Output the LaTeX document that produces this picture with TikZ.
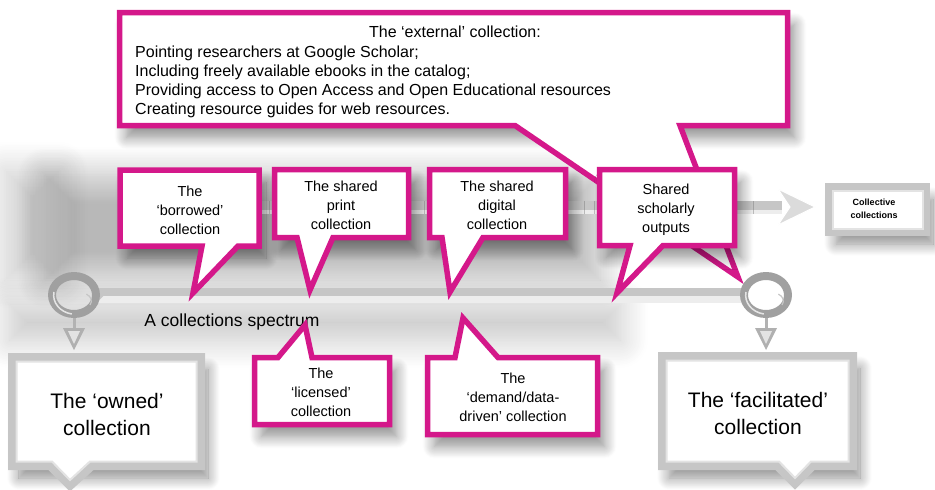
\documentclass[tikz,border=0pt]{standalone}
\usepackage{fontspec}
\setmainfont{Liberation Sans}
\usetikzlibrary{shadows.blur,calc}
\definecolor{mag}{RGB}{212,24,138}
\definecolor{barg}{RGB}{198,198,198}
\definecolor{ringg}{RGB}{160,160,160}
\tikzset{
  x=1pt,y=-1pt,
  sh/.style={blur shadow={shadow xshift=7pt,shadow yshift=-12pt,shadow blur radius=12pt,shadow blur steps=14,shadow opacity=45}},
  haze/.style={blur shadow={shadow xshift=0pt,shadow yshift=0pt,shadow blur radius=28pt,shadow blur steps=18,shadow opacity=#1}},
  callout/.style={draw=mag,line width=5.5pt,fill=white,line join=miter},
  graybox/.style={draw=gray!45,line width=8pt,fill=white,line join=miter},
  graybevel/.style={draw=gray!22,line width=2pt,line join=miter},
  ctext/.style={align=center,inner sep=0pt,font=\fontsize{14.5}{19}\selectfont},
  btext/.style={align=center,inner sep=0pt,font=\fontsize{21}{27}\selectfont},
}
\begin{document}
\begin{tikzpicture}
\useasboundingbox (0,0) rectangle (935,490);
% diffuse background shadows
\path[haze=28] (45,175) rectangle (600,280);
\path[haze=22] (10,305) rectangle (620,340);
\path[haze=20] (5,170) rectangle (60,280);
% external callout
\path[sh] (119.5,12.5) rectangle (787.5,125.5);
\fill[gray!45] (515,125.5) -- (680,125.5) -- (738,277) -- cycle;
\draw[callout] (119.5,12.5) -- (787.5,12.5) -- (787.5,125.5) -- (680,125.5) -- (738,277) -- (515,125.5) -- (119.5,125.5) -- cycle;
\node[ctext,font=\fontsize{16}{19}\selectfont] (exttitle) at (455,32) {The ‘external’ collection:};
\node[ctext,align=left,anchor=north west,font=\fontsize{16}{19}\selectfont] (extlist) at (135,46) {Pointing researchers at Google Scholar;\\Including freely available ebooks in the catalog;\\Providing access to Open Access and Open Educational resources\\Creating resource guides for web resources.};
% top arrow bar
\fill[barg] (130,201) rectangle (782,214);
\fill[gray!14] (130,210) rectangle (782,214);
\fill[gray!28,draw=white,line width=1pt] (778,189) -- (815,207) -- (778,225) -- (790,207) -- cycle;
% collective box
\path[sh] (829,187) rectangle (926,232);
\draw[graybox] (829,187) rectangle (926,232);
\draw[graybevel] (832.5,190.5) rectangle (922.5,228.5);
\node[ctext,font=\bfseries\fontsize{9}{13}\selectfont] (collective) at (874,209) {Collective\\collections};
% lower spectrum bar
\fill[barg] (95,288) rectangle (745,303);
\fill[gray!14] (95,296) rectangle (745,303);
\fill[barg] (96,288) -- (104,295.5) -- (96,303) -- cycle;
% rings
\foreach \cx in {74,766}{
  \fill[ringg,even odd rule] (\cx,295) ellipse [x radius=26,y radius=23] (\cx,295) ellipse [x radius=18,y radius=15];
  \draw[gray!20,line width=1.5pt] (\cx-20,292) arc[start angle=190,end angle=100,x radius=22,y radius=19];
  \draw[gray!45,line width=1.2pt] (\cx+16,305) arc[start angle=30,end angle=-60,x radius=10,y radius=8];
  \draw[gray!60,line width=3pt] (\cx,318) -- (\cx,332);
  \fill[gray!62] (\cx-11,328) -- (\cx+11,328) -- (\cx,350) -- cycle;
  \fill[gray!22] (\cx-6,331) -- (\cx+6,331) -- (\cx,344) -- cycle;
}
\coordinate (lring) at (74,295);
\coordinate (rring) at (766,295);
\node[inner sep=0pt,font=\fontsize{17.5}{20}\selectfont] (spectrum) at (232,322) {A collections spectrum};
% top row callouts
\path[sh] (120,170) rectangle (259,246);
\draw[callout] (120,170) -- (259,170) -- (259,246) -- (238,246) -- (193,293) -- (202,246) -- (120,246) -- cycle;
\node[ctext] (borrowed) at (190,210) {The\\‘borrowed’\\collection};
\path[sh] (274.5,169.5) rectangle (408.5,237.5);
\draw[callout] (274.5,169.5) -- (408.5,169.5) -- (408.5,237.5) -- (333,237.5) -- (310,290) -- (297,237.5) -- (274.5,237.5) -- cycle;
\node[ctext] (print) at (341,205) {The shared\\print\\collection};
\path[sh] (429.5,169.5) rectangle (565.5,237.5);
\draw[callout] (429.5,169.5) -- (565.5,169.5) -- (565.5,237.5) -- (483,237.5) -- (450,292) -- (442,237.5) -- (429.5,237.5) -- cycle;
\node[ctext] (digital) at (497,205) {The shared\\digital\\collection};
\path[sh] (599.5,169.5) rectangle (734.5,245.5);
\draw[callout] (599.5,169.5) -- (734.5,169.5) -- (734.5,245.5) -- (663,245.5) -- (617,293) -- (630,245.5) -- (599.5,245.5) -- cycle;
\node[ctext] (scholarly) at (666,210) {Shared\\scholarly\\outputs};
% lower callouts
\path[sh] (254.5,357.5) rectangle (389.5,424.5);
\draw[callout] (254.5,357.5) -- (278,357.5) -- (305,325) -- (312,357.5) -- (389.5,357.5) -- (389.5,424.5) -- (254.5,424.5) -- cycle;
\node[ctext] (licensed) at (321,392) {The\\‘licensed’\\collection};
\path[sh] (427.5,357.5) rectangle (597.5,434.5);
\draw[callout] (427.5,357.5) -- (455,357.5) -- (463,318) -- (498,357.5) -- (597.5,357.5) -- (597.5,434.5) -- (427.5,434.5) -- cycle;
\node[ctext] (demand) at (513,397) {The\\‘demand/data-\\driven’ collection};
% big gray boxes
\path[sh] (12,357) rectangle (201,466);
\draw[graybox] (12,357) -- (201,357) -- (201,466) -- (92,466) -- (70,486) -- (50,466) -- (12,466) -- cycle;
\draw[graybevel] (16.5,361.5) -- (196.5,361.5) -- (196.5,461.5) -- (90,461.5) -- (70,480) -- (52,461.5) -- (16.5,461.5) -- cycle;
\node[btext] (owned) at (107,414) {The ‘owned’\\collection};
\path[sh] (662,356) rectangle (853,466);
\draw[graybox] (662,356) -- (853,356) -- (853,466) -- (813,466) -- (795,484) -- (777,466) -- (662,466) -- cycle;
\draw[graybevel] (666.5,360.5) -- (848.5,360.5) -- (848.5,461.5) -- (811,461.5) -- (795,478) -- (779,461.5) -- (666.5,461.5) -- cycle;
\node[btext] (facilitated) at (758,413) {The ‘facilitated’\\collection};
\end{tikzpicture}
\end{document}
